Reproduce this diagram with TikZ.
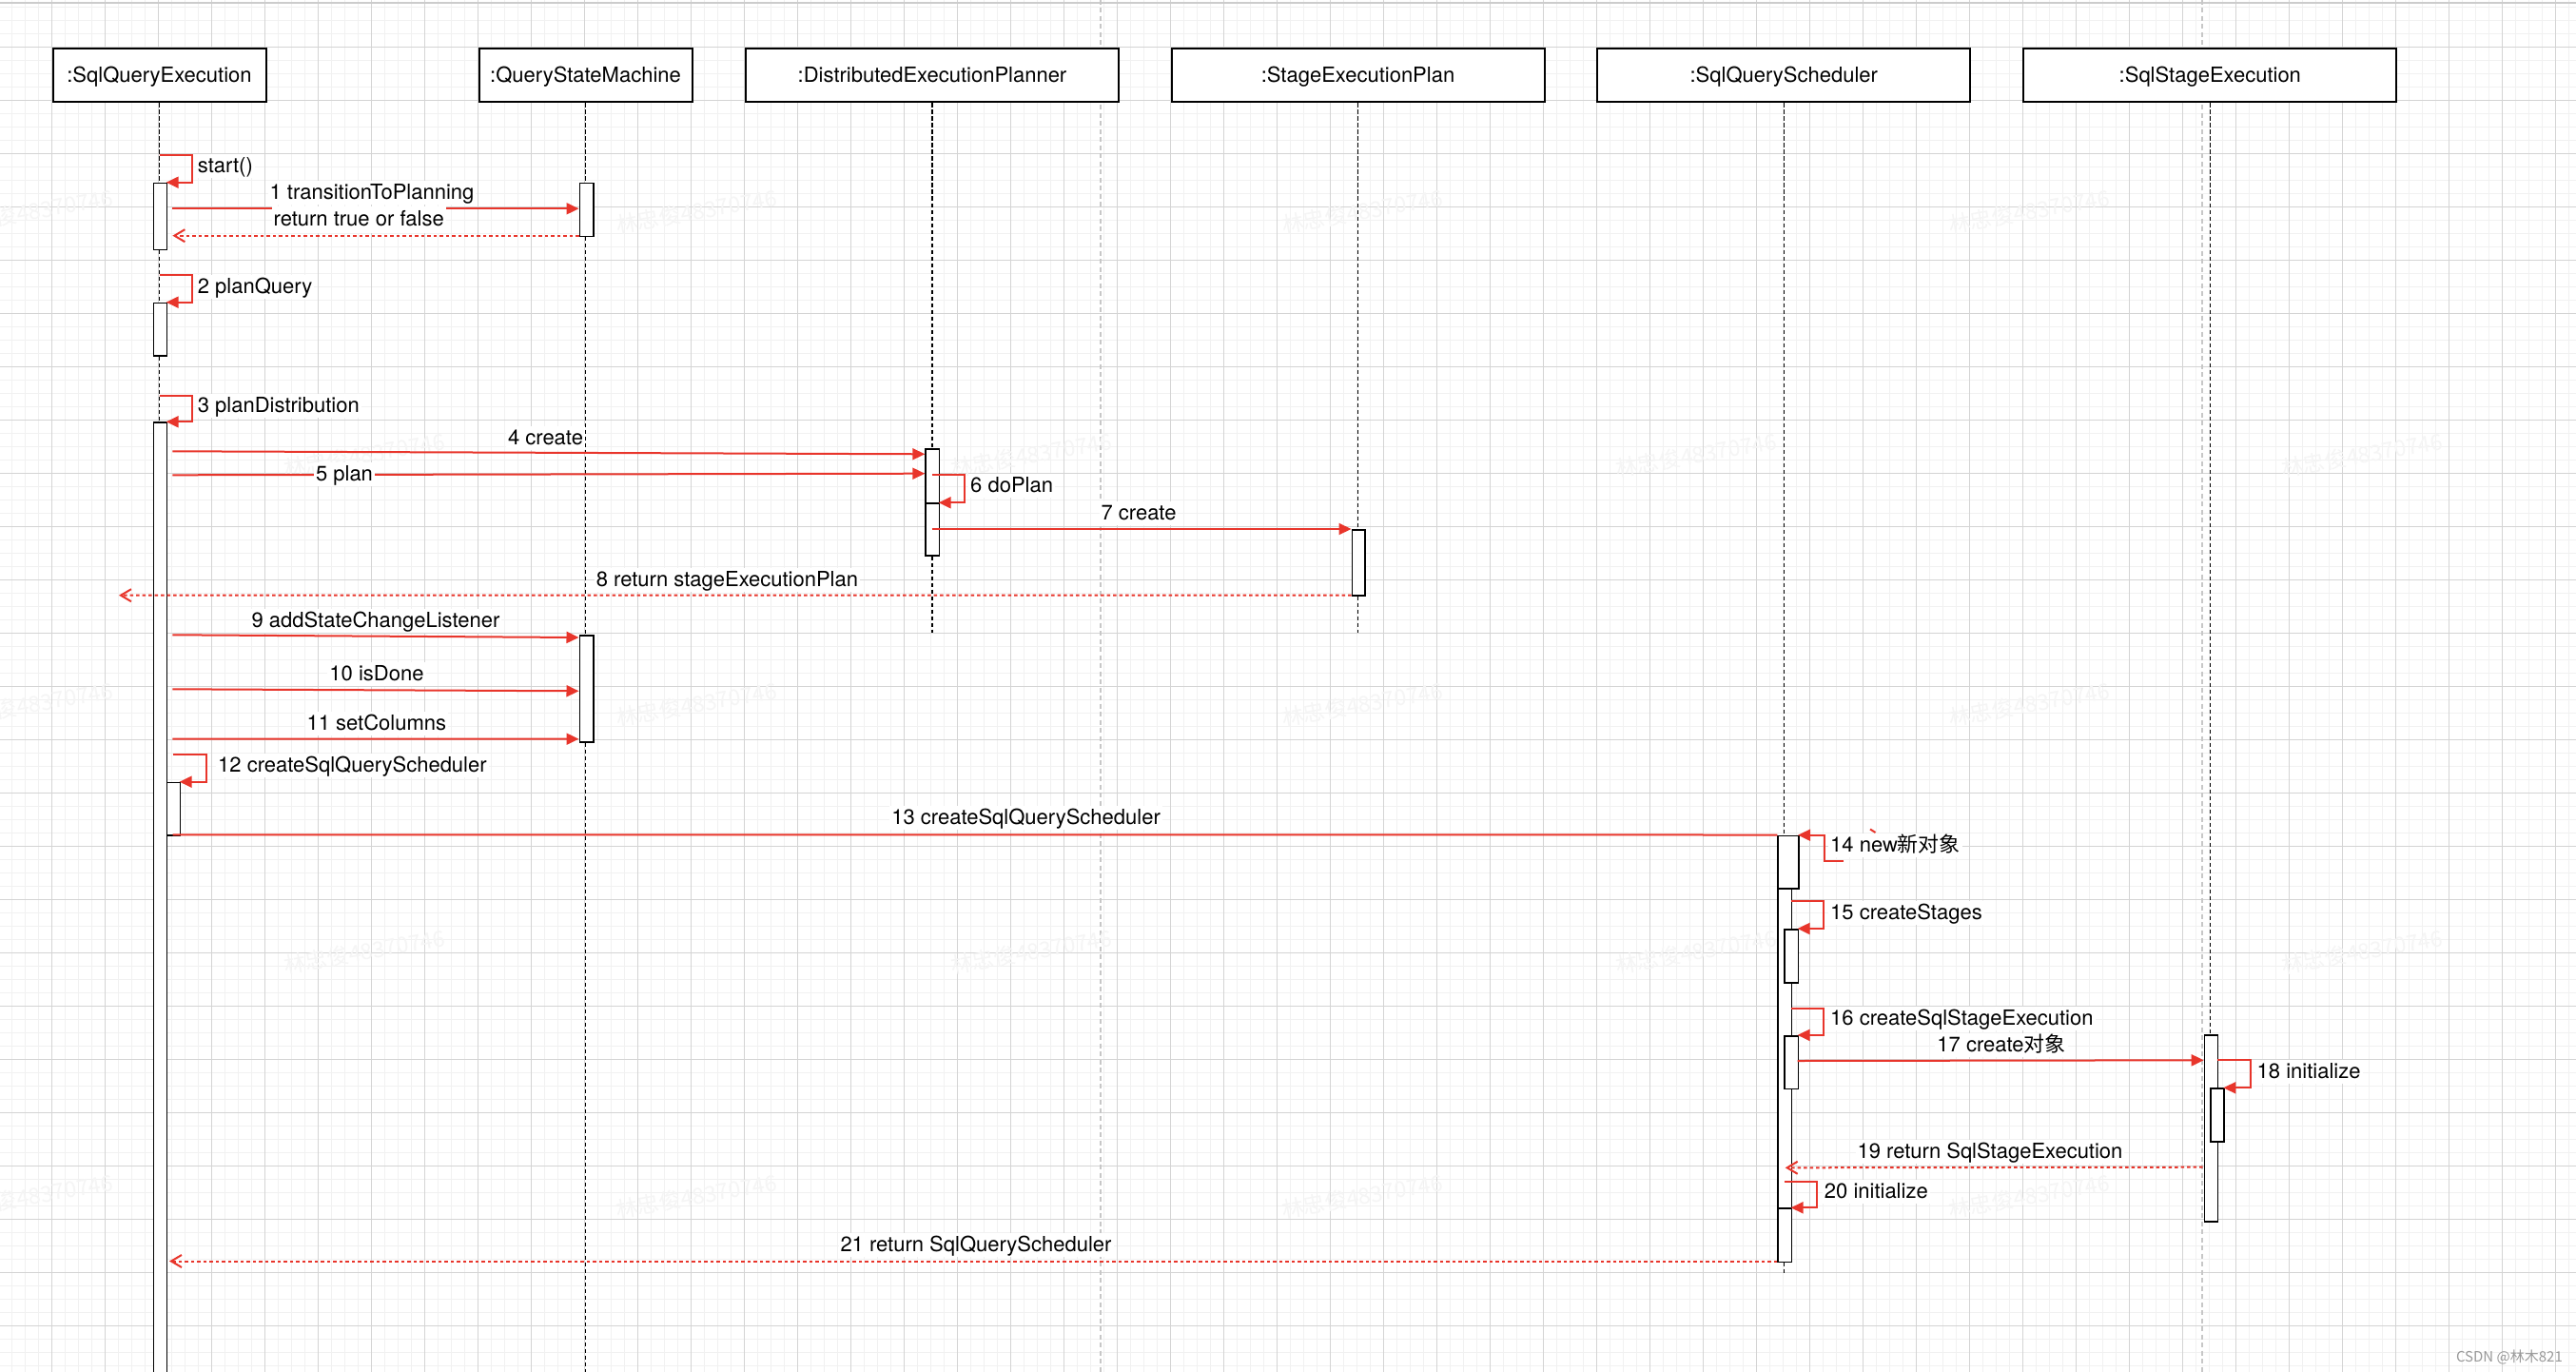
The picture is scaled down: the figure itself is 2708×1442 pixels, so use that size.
\documentclass[tikz,border=0pt]{standalone}
\usepackage{fontspec}
\setmainfont{TeX Gyre Heros}
\newfontfamily\cjk{Noto Sans CJK SC}
\usetikzlibrary{arrows.meta}
\definecolor{msgred}{HTML}{E8352B}
\definecolor{gridminor}{HTML}{F1F1F1}
\definecolor{gridmajor}{HTML}{D4D4D4}
\newcommand\lblfont{\fontsize{22}{26}\selectfont}
\begin{document}
\begin{tikzpicture}[x=1pt,y=-1pt,
 lifebox/.style={draw=black,line width=2pt,fill=white,minimum height=56pt,inner sep=0pt,font=\lblfont,text height=17.5pt,text depth=3.5pt},
 act/.style={draw=black,line width=1.7pt,fill=white,inner sep=0pt,anchor=north west},
 lifeline/.style={draw=black,line width=1.5pt,dash pattern=on 4.5pt off 2.5pt},
 msg/.style={draw=msgred,line width=2pt,-{Triangle[length=13pt,width=12pt]}},
 msgline/.style={draw=msgred,line width=2pt},
 ret/.style={draw=msgred,line width=2pt,dash pattern=on 3.5pt off 3pt,-{Straight Barb[length=11pt,width=13pt]}},
 lbl/.style={fill=white,inner sep=2pt,font=\lblfont,text height=17.5pt,text depth=3.5pt},
 pagebreak/.style={draw=black!22,line width=1.5pt,dash pattern=on 5pt off 3.5pt},
 wm/.style={font=\cjk\fontsize{23}{26}\selectfont,text=black!4,rotate=10}
]
\useasboundingbox (0,0) rectangle (2708,1442);
\clip (0,0) rectangle (2708,1442);
\fill[white] (0,0) rectangle (2708,1442);
% grid
\foreach \x in {12.3,26.3,...,2708} \draw[gridminor,line width=1pt] (\x,0) -- (\x,1442);
\foreach \y in {7.3,21.3,...,1442} \draw[gridminor,line width=1pt] (0,\y) -- (2708,\y);
\foreach \x in {54.3,110.3,...,2708} \draw[gridmajor,line width=1pt] (\x,0) -- (\x,1442);
\foreach \y in {49.3,105.3,...,1442} \draw[gridmajor,line width=1pt] (0,\y) -- (2708,\y);
% top border and page breaks
\draw[black!20,line width=2pt] (0,2.7) -- (2708,2.7);
\coordinate (pb1t) at (1157,0); \coordinate (pb1b) at (1157,1442);
\coordinate (pb2t) at (2315,0); \coordinate (pb2b) at (2315,1442);
\draw[pagebreak] (pb1t) -- (pb1b);
\draw[pagebreak] (pb2t) -- (pb2b);
% watermark
\foreach \p/\n in {{(34,222)}/w1,{(732,222)}/w2,{(1432,222)}/w3,{(2133,222)}/w4,
  {(383,478)}/w5,{(1084,478)}/w6,{(1783,478)}/w7,{(2483,478)}/w8,
  {(34,740)}/w9,{(732,740)}/w10,{(1432,740)}/w11,{(2133,740)}/w12,
  {(383,1000)}/w13,{(1084,1000)}/w14,{(1783,1000)}/w15,{(2483,1000)}/w16,
  {(34,1257)}/w17,{(732,1257)}/w18,{(1432,1257)}/w19,{(2133,1257)}/w20}
  \node[wm] (\n) at \p {林忠俊48370746};
% lifeline heads
\node[lifebox,minimum width=224pt] (h1) at (167.5,79.5) {:SqlQueryExecution};
\node[lifebox,minimum width=224pt] (h2) at (615.5,79.5) {:QueryStateMachine};
\node[lifebox,minimum width=392pt] (h3) at (980,79.5) {:DistributedExecutionPlanner};
\node[lifebox,minimum width=392pt] (h4) at (1427.5,79.5) {:StageExecutionPlan};
\node[lifebox,minimum width=392pt] (h5) at (1875.3,79.5) {:SqlQueryScheduler};
\node[lifebox,minimum width=392pt] (h6) at (2323.3,79.5) {:SqlStageExecution};
% lifelines
\coordinate (end1) at (167.5,1442);
\coordinate (end2) at (615.5,1442);
\coordinate (end3) at (980,665);
\coordinate (end4) at (1427.5,665);
\coordinate (end5) at (1875.3,1338);
\coordinate (end6) at (2323.3,1283);
\draw[lifeline] (h1.south) -- (end1);
\draw[lifeline] (h2.south) -- (end2);
\draw[lifeline] (h3.south) -- (end3);
\draw[lifeline] (h4.south) -- (end4);
\draw[lifeline] (h5.south) -- (end5);
\draw[lifeline] (h6.south) -- (end6);
% activations
\node[act,minimum width=14pt,minimum height=70pt] (a1) at (160.7,191.7) {};
\node[act,minimum width=14pt,minimum height=55.6pt] (a2) at (160.7,317.7) {};
\node[act,minimum width=14pt,minimum height=1010pt] (a3) at (160.7,443.3) {};
\node[act,minimum width=14pt,minimum height=55.6pt] (a4) at (174.6,821.7) {};
\node[act,minimum width=14.3pt,minimum height=56pt] (b1) at (608.5,191.7) {};
\node[act,minimum width=14.3pt,minimum height=112pt] (b2) at (608.5,667.3) {};
\node[act,minimum width=14.4pt,minimum height=112.3pt] (c1) at (972.3,471) {};
\node[act,minimum width=14.4pt,minimum height=55pt] (c2) at (972.3,528.3) {};
\node[act,minimum width=13.8pt,minimum height=69.5pt] (d1) at (1420.5,555.8) {};
\node[act,minimum width=14.2pt,minimum height=448.1pt] (e1) at (1868.4,877.5) {};
\node[act,minimum width=21.6pt,minimum height=55.8pt] (e2) at (1868.4,877.5) {};
\node[act,minimum width=14.2pt,minimum height=55.8pt] (e3) at (1875.4,976) {};
\node[act,minimum width=14.2pt,minimum height=55.7pt] (e4) at (1875.4,1087.9) {};
\node[act,minimum width=14.2pt,minimum height=56.3pt] (e5) at (1868.4,1269.3) {};
\node[act,minimum width=14pt,minimum height=196pt] (f1) at (2316.7,1087.3) {};
\node[act,minimum width=14pt,minimum height=56pt] (f2) at (2323.3,1143.3) {};
% message end points
\coordinate (s0) at (167.6,163.3);  \coordinate (e0) at (174.7,191.7);
\coordinate (m1s) at (181.4,219.3); \coordinate (m1e) at (608.5,219.3);
\coordinate (r1s) at (608.5,247.7); \coordinate (r1e) at (181.4,247.7);
\coordinate (s2) at (167.6,289.3);  \coordinate (e2p) at (174.7,317.7);
\coordinate (s3) at (167.6,415.7);  \coordinate (e3p) at (174.7,443.3);
\coordinate (m4s) at (181.4,474.3); \coordinate (m4e) at (972.3,477.3);
\coordinate (m5s) at (181.4,499.3); \coordinate (m5e) at (972.3,497.7);
\coordinate (s6) at (979.6,499.3);  \coordinate (e6p) at (986.7,528.3);
\coordinate (m7s) at (979.6,556);   \coordinate (m7e) at (1420.5,556);
\coordinate (r8s) at (1420.5,625.5); \coordinate (r8e) at (125,625.7);
\coordinate (m9s) at (181.4,667.3); \coordinate (m9e) at (608.5,670);
\coordinate (m10s) at (181.4,724.3); \coordinate (m10e) at (608.5,726.3);
\coordinate (m11s) at (181.4,776.5); \coordinate (m11e) at (608.5,776.7);
\coordinate (s12) at (181.7,793.3); \coordinate (e12p) at (188.7,821.7);
\coordinate (m13s) at (181.7,877.3); \coordinate (m13e) at (1868.4,877.5);
\coordinate (s14) at (1938.3,905);  \coordinate (e14p) at (1890,877.7);
\coordinate (s15) at (1882.6,947.4); \coordinate (e15p) at (1889.6,976);
\coordinate (s16) at (1882.6,1059.6); \coordinate (e16p) at (1889.6,1087.9);
\coordinate (m17s) at (1889.6,1115); \coordinate (m17e) at (2316.7,1114.3);
\coordinate (s18) at (2330.7,1114.3); \coordinate (e18p) at (2337.3,1143.3);
\coordinate (r19s) at (2315.5,1226.7); \coordinate (r19e) at (1876.7,1227.3);
\coordinate (s20) at (1875.7,1241.7); \coordinate (e20p) at (1882.6,1269.3);
\coordinate (r21s) at (1868.4,1325.5); \coordinate (r21e) at (178,1325.5);
\coordinate (tk1) at (1966,871.5); \coordinate (tk2) at (1971.5,875);
% messages
\draw[msg] (s0) -- ++(34.4,0) |- (e0);
\draw[msg] (m1s) -- (m1e);
\draw[ret] (r1s) -- (r1e);
\draw[msg] (s2) -- ++(34.4,0) |- (e2p);
\draw[msg] (s3) -- ++(34.4,0) |- (e3p);
\draw[msg] (m4s) -- (m4e);
\draw[msg] (m5s) -- (m5e);
\draw[msg] (s6) -- ++(34.4,0) |- (e6p);
\draw[msg] (m7s) -- (m7e);
\draw[ret] (r8s) -- (r8e);
\draw[msg] (m9s) -- (m9e);
\draw[msg] (m10s) -- (m10e);
\draw[msg] (m11s) -- (m11e);
\draw[msg] (s12) -- ++(35,0) |- (e12p);
\draw[msgline] (m13s) -- (m13e);
\draw[msg] (s14) -- ++(-20,0) |- (e14p);
\draw[msg] (s15) -- ++(34.4,0) |- (e15p);
\draw[msg] (s16) -- ++(34.4,0) |- (e16p);
\draw[msg] (m17s) -- (m17e);
\draw[msg] (s18) -- ++(35.3,0) |- (e18p);
\draw[ret] (r19s) -- (r19e);
\draw[msg] (s20) -- ++(34.3,0) |- (e20p);
\draw[ret] (r21s) -- (r21e);
% labels
\node[lbl,anchor=west] (t0) at (205.7,175) {start()};
\node[lbl] (t1) at (391,202.7) {1 transitionToPlanning};
\node[lbl,inner ysep=3.5pt] (t1r) at (377.2,230.7) {return true or false};
\node[lbl,anchor=west] (t2) at (205.7,301) {2 planQuery};
\node[lbl,anchor=west] (t3) at (205.7,426.7) {3 planDistribution};
\node[lbl] (t4) at (573.5,460) {4 create};
\node[lbl] (t5) at (362,498) {5 plan};
\node[lbl,anchor=west] (t6) at (1018,510) {6 doPlan};
\node[lbl] (t7) at (1197,539) {7 create};
\node[lbl,anchor=west] (t8) at (624.7,609) {8 return stageExecutionPlan};
\node[lbl] (t9) at (395,652.7) {9 addStateChangeListener};
\node[lbl] (t10) at (396,708.3) {10 isDone};
\node[lbl] (t11) at (395.8,760.7) {11 setColumns};
\node[lbl,anchor=west] (t12) at (227,804.4) {12 createSqlQueryScheduler};
\node[lbl] (t13) at (1078.6,859) {13 createSqlQueryScheduler};
\node[lbl,anchor=west] (t14) at (1922,888.3) {14 new{\cjk 新对象}};
\node[lbl,anchor=west] (t15) at (1922,959) {15 createStages};
\node[lbl,anchor=west] (t16) at (1922,1070.7) {16 createSqlStageExecution};
\node[lbl] (t17) at (2104,1098) {17 create{\cjk 对象}};
\node[lbl,anchor=west] (t18) at (2370.5,1126.5) {18 initialize};
\node[lbl] (t19) at (2092,1210.7) {19 return SqlStageExecution};
\node[lbl,anchor=west] (t20) at (1915.7,1252.7) {20 initialize};
\node[lbl] (t21) at (1026,1308) {21 return SqlQueryScheduler};
\draw[msgline] (tk1) -- (tk2);
\node[anchor=east,font=\cjk\fontsize{15}{18}\selectfont,text=black!40,inner sep=0pt] (csdn) at (2694,1426) {CSDN @林木821};
\end{tikzpicture}
\end{document}
